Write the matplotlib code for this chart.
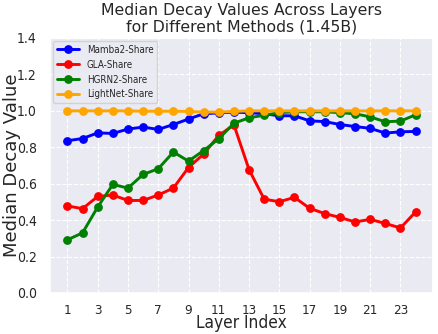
import matplotlib
matplotlib.use("Agg")
import matplotlib.pyplot as plt
import seaborn as sns

layers = list(range(1, 25))
mamba2 = [0.836, 0.848, 0.879, 0.876, 0.900, 0.911, 0.898, 0.925, 0.955, 0.984, 0.989, 0.993,
          0.990, 0.984, 0.973, 0.973, 0.945, 0.941, 0.925, 0.914, 0.904, 0.878, 0.885, 0.887]
gla = [0.478, 0.463, 0.530, 0.538, 0.508, 0.508, 0.538, 0.576, 0.689, 0.763, 0.865, 0.923,
       0.677, 0.515, 0.501, 0.525, 0.465, 0.436, 0.415, 0.390, 0.404, 0.382, 0.357, 0.445]
hgrn2 = [0.292, 0.330, 0.472, 0.596, 0.576, 0.651, 0.682, 0.774, 0.724, 0.782, 0.847, 0.932,
         0.962, 0.976, 0.990, 0.995, 0.995, 0.995, 0.990, 0.984, 0.967, 0.940, 0.944, 0.978]
lightnet = [1.0, 1.0, 1.0, 1.0, 1.0, 0.998, 0.998, 0.998, 0.997, 0.993, 0.993, 0.997,
            1.0, 1.0, 1.0, 1.0, 1.0, 1.0, 1.0, 1.0, 1.0, 1.0, 1.0, 1.0]

series = [("Mamba2-Share", mamba2, "blue"), ("GLA-Share", gla, "red"),
          ("HGRN2-Share", hgrn2, "green"), ("LightNet-Share", lightnet, "orange")]
xticks = list(range(1, 25, 2))

sns.set_theme(style="darkgrid")
plt.rcParams['font.family'] = ['DejaVu Sans']
plt.rcParams['font.stretch'] = 'condensed'

fig = plt.figure(figsize=(4.38, 3.34), dpi=100)
ax = fig.add_axes([50/438, 1 - 293/334, (433-50)/438, (293-38)/334])
for name, vals, col in series:
    ax.plot(layers, vals, marker='o', color=col, label=name, linewidth=2.1, markersize=5.3)
ax.set_ylim(0, 1.4)
ax.set_xticks(xticks)
ax.tick_params(axis='y', labelsize=10)
ax.tick_params(axis='x', labelsize=9.6, pad=2)
ax.grid(True, linestyle='--', color='white', linewidth=0.8)
ax.set_xlabel("Layer Index", fontsize=12.4)
ax.xaxis.set_label_coords(0.5, -(313.8 - 293) / 255)
ax.xaxis.label.set_va('top')
ax.set_ylabel("Median Decay Value", fontsize=13, fontstretch='normal')
ax.yaxis.set_label_coords(-(50 - 21.5) / 383, 0.5)
ax.set_title("Median Decay Values Across Layers\nfor Different Methods (1.45B)", fontsize=11.3,
             fontstretch='normal', linespacing=1.05, pad=5)
ax.legend(loc='upper left', fontsize=7, borderaxespad=0.3, handlelength=2.3)
fig.savefig("out.png", dpi=100)
